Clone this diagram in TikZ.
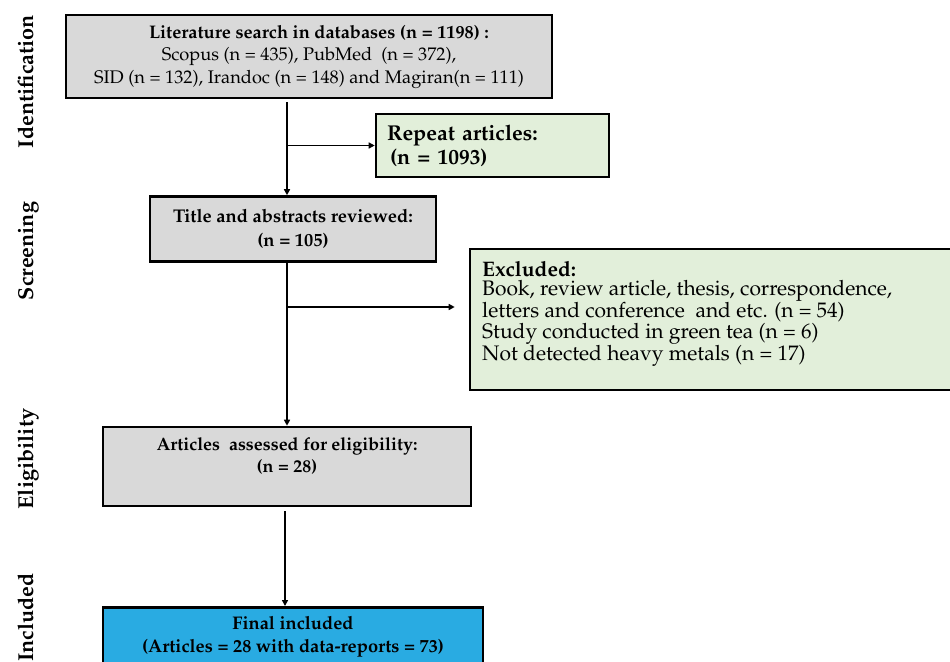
\documentclass[tikz,border=0pt]{standalone}
\usepackage[T1]{fontenc}
\usepackage{mathpazo}
\usetikzlibrary{arrows.meta}
\definecolor{boxgray}{HTML}{D9D9D9}
\definecolor{boxgreen}{HTML}{E2EFDA}
\definecolor{boxblue}{HTML}{29ABE2}
\makeatletter
\newcommand\fitfs[4]{%
  \setbox0=\hbox{\fontsize{10}{12}\selectfont#3#4}%
  \pgfmathsetmacro#1{10*#2/\strip@pt\wd0}%
}
\makeatother
\tikzset{
  flowbox/.style={draw=black, line width=2.6pt, rectangle, align=center, inner sep=4pt},
  graybox/.style={flowbox, fill=boxgray},
  greenbox/.style={flowbox, fill=boxgreen},
  bluebox/.style={flowbox, fill=boxblue},
  arr/.style={line width=1.8pt, -{Triangle[length=6pt,width=6pt]}},
}
\begin{document}
\fitfs{\fsA}{340}{\bfseries}{Literature search in databases (n = 1198) :}%
\fitfs{\fsB}{430}{}{SID (n = 132), Irandoc (n = 148) and Magiran(n = 111)}%
\fitfs{\fsRep}{149}{\bfseries}{Repeat articles:}%
\fitfs{\fsTitle}{240}{\bfseries}{Title and abstracts reviewed:}%
\fitfs{\fsExc}{410}{}{Book, review article, thesis, correspondence,}%
\fitfs{\fsElig}{261}{\bfseries}{Articles~ assessed for eligibility:}%
\fitfs{\fsFin}{302}{\bfseries}{(Articles = 28 with data-reports = 73)}%
\fitfs{\fsPh}{133}{\bfseries}{Identification}%
\begin{tikzpicture}[x=1pt,y=-1pt]
\tikzset{phase/.style={rotate=90, inner sep=0pt, font=\fontsize{\fsPh}{\fsPh}\selectfont\bfseries}}
\useasboundingbox (0,0) rectangle (950,661);
\fill[white] (0,0) rectangle (950,661);

% phase labels
\node[phase, anchor=base] (lid) at (33,81.5) {Identification};
\node[phase, anchor=base] (lsc) at (33,251) {Screening};
\node[phase, anchor=base] (lel) at (33,459) {Eligibility};
\node[phase, anchor=base east] (lin) at (33,573) {Included};

% boxes
\node[graybox, minimum width=486pt, minimum height=83pt, inner xsep=2pt,
      font=\fontsize{\fsB}{22.5}\selectfont] (search) at (309,56.5)
  {\hspace*{20pt}{\fontsize{\fsA}{22.5}\selectfont\bfseries Literature search in databases (n = 1198) :}\\
   Scopus (n = 435), PubMed~ (n = 372),\\
   SID (n = 132), Irandoc (n = 148) and Magiran(n = 111)};

\node[greenbox, minimum width=233pt, minimum height=63pt, inner xsep=11pt,
      text width=211pt, align=left,
      font=\fontsize{\fsRep}{24}\selectfont\bfseries] (rep) at (492.5,145.5)
  {Repeat articles:\\
   \hspace*{3pt}(n = 1093)};

\node[graybox, minimum width=286pt, minimum height=65pt,
      font=\fontsize{\fsTitle}{23.5}\selectfont\bfseries] (title) at (293,229)
  {Title and abstracts reviewed:\\
   (n = 105)};

\node[greenbox, minimum width=482pt, minimum height=141pt] (excl) at (711,319.5) {};
\node[anchor=north west, inner sep=0pt, align=left,
      font=\fontsize{\fsExc}{19.5}\selectfont] (excltext) at (482,261)
  {\textbf{Excluded:}\\
   Book, review article, thesis, correspondence,\\
   letters and conference~ and etc. (n = 54)\\
   Study conducted in green tea (n = 6)\\
   Not detected heavy metals (n = 17)};

\node[graybox, minimum width=368pt, minimum height=79pt,
      font=\fontsize{\fsElig}{22}\selectfont\bfseries] (elig) at (287,466.5)
  {Articles~ assessed for eligibility:\\
   (n = 28)\\ \mbox{}};

\node[bluebox, minimum width=380pt, minimum height=58pt, anchor=north,
      font=\fontsize{\fsFin}{23}\selectfont\bfseries] (final) at (293,606)
  {Final included\\
   (Articles = 28 with data-reports = 73)};

% connectors
\coordinate (v) at (287,0);
\coordinate (vb) at (285,0);
\coordinate (b2) at (287,307);
\draw[arr, shorten <=3pt] (search.south -| v) -- (title.north -| v);
\draw[arr] (v |- rep.west) -- (rep.west);
\draw[arr] (title.south -| v) -- (elig.north -| v);
\draw[arr, shorten >=14pt] (b2) -- (b2 -| excl.west);
\draw[arr, shorten <=4pt] (elig.south -| vb) -- (final.north -| vb);
\end{tikzpicture}
\end{document}
